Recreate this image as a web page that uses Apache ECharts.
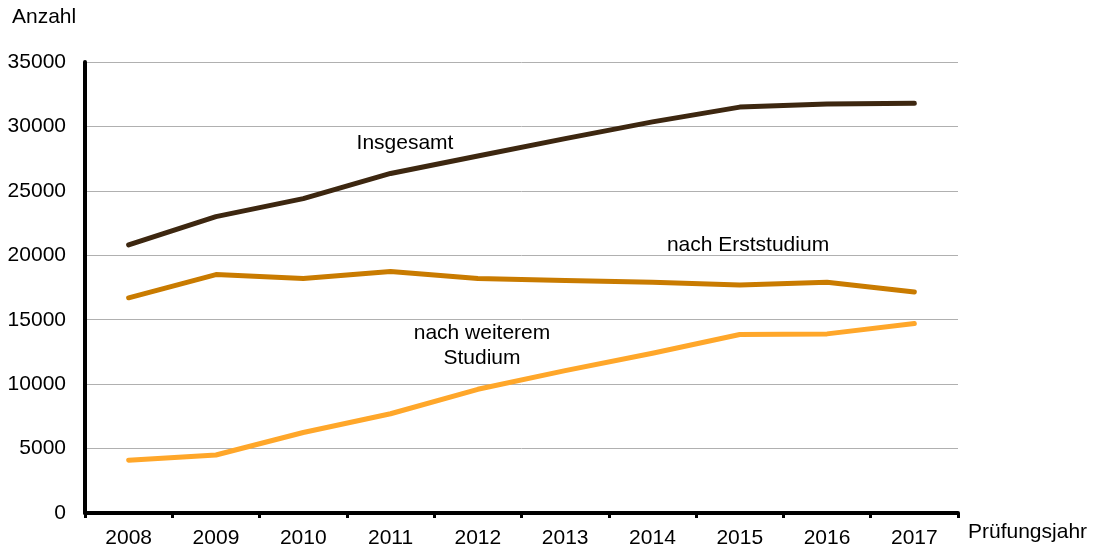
<!DOCTYPE html>
<html>
<head>
<meta charset="utf-8">
<script src="https://cdn.jsdelivr.net/npm/echarts@6/dist/echarts.min.js"></script>
<style>
  html, body { margin: 0; padding: 0; background: #fff; }
  #chart { width: 1103px; height: 549px; }
</style>
</head>
<body>
<div id="chart"></div>
<script>
// Prüfungsjahre
const years = ['2008', '2009', '2010', '2011', '2012', '2013', '2014', '2015', '2016', '2017']
// Werte
const insgesamt = [20800, 23000, 24400, 26350, 27700, 29050, 30350, 31500, 31750, 31800]
const nachErststudium = [16700, 18500, 18200, 18750, 18200, 18050, 17900, 17700, 17900, 17150]
const nachWeiteremStudium = [4100, 4500, 6250, 7700, 9600, 11050, 12400, 13850, 13900, 14700]

const font = 'Liberation Sans, Arial, sans-serif'
const fs = 21
const myChart = echarts.init(document.getElementById('chart'))

function lineSeries(name, data, color) {
  return {
    name: name,
    type: 'line',
    data: data,
    symbol: 'none',
    smooth: false,
    lineStyle: { color: color, width: 5, cap: 'round', join: 'round' },
    itemStyle: { color: color }
  }
}

myChart.setOption({
  animation: false,
  grid: { left: 85, right: 145, top: 62, bottom: 35 },
  xAxis: {
    type: 'category',
    data: years,
    boundaryGap: true,
    axisLine: { lineStyle: { color: '#000', width: 4 } },
    axisTick: { show: true, length: 5, lineStyle: { color: '#000', width: 3 } },
    axisLabel: { color: '#000', fontSize: fs, fontFamily: font, margin: 15 },
    name: 'Prüfungsjahr',
    nameLocation: 'end',
    nameGap: 10,
    nameTextStyle: { color: '#000', fontSize: fs, fontFamily: font, align: 'left', verticalAlign: 'top', padding: [9, 0, 0, 0] }
  },
  yAxis: {
    type: 'value',
    min: 0,
    max: 35000,
    interval: 5000,
    axisLine: { show: true, lineStyle: { color: '#000', width: 4 } },
    axisTick: { show: false },
    splitLine: { lineStyle: { color: '#b0b0b0', width: 1 } },
    axisLabel: { color: '#000', fontSize: fs, fontFamily: font, margin: 19, formatter: v => String(v) },
    name: 'Anzahl',
    nameLocation: 'end',
    nameGap: 34,
    nameTextStyle: { color: '#000', fontSize: fs, fontFamily: font, align: 'left', padding: [0, 0, 0, -73] }
  },
  series: [
    lineSeries('Insgesamt', insgesamt, '#3d2710'),
    lineSeries('nach Erststudium', nachErststudium, '#c97b00'),
    lineSeries('nach weiterem Studium', nachWeiteremStudium, '#ffa72a')
  ],
  graphic: [
    { type: 'text', x: 405, y: 143, style: { text: 'Insgesamt', fill: '#000', font: fs + 'px ' + font, align: 'center', verticalAlign: 'middle' } },
    { type: 'text', x: 748, y: 245, style: { text: 'nach Erststudium', fill: '#000', font: fs + 'px ' + font, align: 'center', verticalAlign: 'middle' } },
    { type: 'text', x: 482, y: 333, style: { text: 'nach weiterem', fill: '#000', font: fs + 'px ' + font, align: 'center', verticalAlign: 'middle' } },
    { type: 'text', x: 482, y: 358, style: { text: 'Studium', fill: '#000', font: fs + 'px ' + font, align: 'center', verticalAlign: 'middle' } }
  ]
})
</script>
</body>
</html>
